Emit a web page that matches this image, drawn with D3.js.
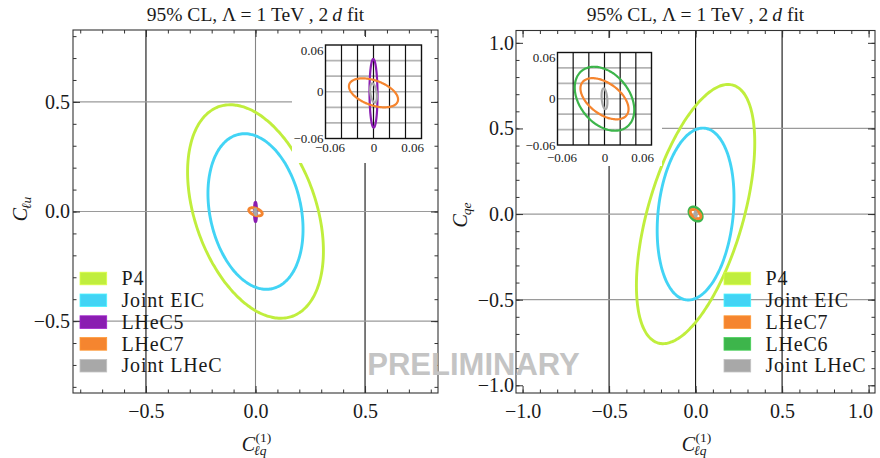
<!DOCTYPE html>
<html><head><meta charset="utf-8">
<script src="https://cdn.jsdelivr.net/npm/d3@7"></script>
<style>
html,body{margin:0;padding:0;background:#fff;}
</style></head><body>
<svg id="chart" width="880" height="458" style="font-family:'Liberation Serif','DejaVu Serif','Times New Roman',serif"></svg>
<script>
// ---------- data ----------
// 95% CL contours, each given by centre, half-extent along x and y, and correlation
const leftNames   = ["P4", "Joint EIC", "LHeC5", "LHeC7", "Joint LHeC"];
const leftColors  = ["#c0ee3d", "#42d4f5", "#8a1db1", "#f5852f", "#a8a8a8"];
const leftCenterY = [0, 0, -0.002, -0.0014, -0.0016];
const leftHalfX   = [0.31, 0.217, 0.005, 0.0307, 0.0042];
const leftHalfY   = [0.487, 0.355, 0.044, 0.0186, 0.0124];
const leftRho     = [-0.37, -0.23, -0.05, -0.45, -0.35];

const rightNames   = ["P4", "Joint EIC", "LHeC7", "LHeC6", "Joint LHeC"];
const rightColors  = ["#c0ee3d", "#42d4f5", "#f5852f", "#3db54b", "#a8a8a8"];
const rightCenterY = [0, 0, 0, 0, 0];
const rightHalfX   = [0.342, 0.222, 0.0307, 0.038, 0.0037];
const rightHalfY   = [0.757, 0.502, 0.0267, 0.0415, 0.0135];
const rightRho     = [0.55, 0.19, -0.5, -0.35, -0.3];
// legend order (index into the series above)
const rightLegendOrder = [0, 1, 2, 3, 4];
// draw order for the small contours (largest first)
const rightDrawOrder = [0, 1, 3, 2, 4];

const leftMajorX  = [-0.5, 0, 0.5];
const leftMajorY  = [-0.5, 0, 0.5];
const rightMajorX = [-1, -0.5, 0, 0.5, 1];
const rightMajorY = [-1, -0.5, 0, 0.5, 1];
const rightGridX  = [-0.5, 0, 0.5];
const rightGridY  = [-0.5, 0, 0.5];
const insetLabelTicks = [-0.06, 0, 0.06];
const insetGridTicks  = [-0.04, -0.02, 0, 0.02, 0.04];

// ---------- drawing ----------
const SERIF = "'Liberation Serif','DejaVu Serif','Times New Roman',serif";
const svg = d3.select("#chart");
const defs = svg.append("defs");

function contour(cy, hx, hy, rho) {
  const s = Math.sqrt(1 - rho * rho);
  return d3.range(0, 360, 2).map(deg => {
    const t = deg * Math.PI / 180;
    return [hx * Math.cos(t), cy + hy * (rho * Math.cos(t) + s * Math.sin(t))];
  });
}

function makeSeries(names, colors, cy, hx, hy, rho) {
  return names.map((n, i) => ({name: n, color: colors[i], pts: contour(cy[i], hx[i], hy[i], rho[i])}));
}

const fmt1 = d3.format(".1f");
const fmtInset = d => d === 0 ? "0" : d3.format(".2f")(d);

function styleAxis(g, size) {
  g.attr("font-family", SERIF).attr("font-size", size);
  g.selectAll("text").style("font-family", SERIF).attr("fill", "#1a1a1a");
  g.select(".domain").remove();
}

function serifText(sel) {
  return sel.style("font-family", SERIF).attr("fill", "#1a1a1a");
}

function drawPanel(cfg) {
  const x = d3.scaleLinear().domain(cfg.xDomain).range([cfg.left, cfg.right]);
  const y = d3.scaleLinear().domain(cfg.yDomain).range([cfg.bottom, cfg.top]);
  const g = svg.append("g");

  defs.append("clipPath").attr("id", cfg.id + "-clip").append("rect")
    .attr("x", cfg.left).attr("y", cfg.top)
    .attr("width", cfg.right - cfg.left).attr("height", cfg.bottom - cfg.top);
  const plot = g.append("g").attr("clip-path", `url(#${cfg.id}-clip)`);

  // grid lines
  plot.selectAll("line.vg").data(cfg.gridX).join("line")
    .attr("x1", d => x(d)).attr("x2", d => x(d))
    .attr("y1", cfg.top).attr("y2", cfg.bottom)
    .attr("stroke", d => cfg.vGridColor(d)).attr("stroke-width", 1.1);
  plot.selectAll("line.hg").data(cfg.gridY).join("line")
    .attr("y1", d => y(d)).attr("y2", d => y(d))
    .attr("x1", cfg.left).attr("x2", cfg.right)
    .attr("stroke", "#9a9a9a").attr("stroke-width", 1.2);

  // contours
  const line = d3.line().x(d => x(d[0])).y(d => y(d[1])).curve(d3.curveCardinalClosed);
  plot.selectAll("path.ell").data(cfg.drawOrder.map(i => cfg.series[i])).join("path")
    .attr("d", d => line(d.pts)).attr("fill", "none")
    .attr("stroke", d => d.color).attr("stroke-width", 2.9);

  // inset
  const ins = cfg.inset;
  g.append("rect").attr("x", ins.box[0]).attr("y", ins.box[1])
    .attr("width", ins.box[2] - ins.box[0]).attr("height", ins.box[3] - ins.box[1])
    .attr("fill", "#fff");
  const ix = d3.scaleLinear().domain([-0.06, 0.06]).range([ins.left, ins.right]);
  const iy = d3.scaleLinear().domain([-0.06, 0.06]).range([ins.bottom, ins.top]);
  defs.append("clipPath").attr("id", cfg.id + "-iclip").append("rect")
    .attr("x", ins.left).attr("y", ins.top)
    .attr("width", ins.right - ins.left).attr("height", ins.bottom - ins.top);
  const ip = g.append("g").attr("clip-path", `url(#${cfg.id}-iclip)`);
  ip.selectAll("line.ihg").data(insetGridTicks).join("line")
    .attr("y1", d => iy(d)).attr("y2", d => iy(d))
    .attr("x1", ins.left).attr("x2", ins.right)
    .attr("stroke", "#b4b4b4").attr("stroke-width", 1.6);
  ip.selectAll("line.ivg").data(insetGridTicks).join("line")
    .attr("x1", d => ix(d)).attr("x2", d => ix(d))
    .attr("y1", ins.top).attr("y2", ins.bottom)
    .attr("stroke", "#111").attr("stroke-width", 1.2);
  const iline = d3.line().x(d => ix(d[0])).y(d => iy(d[1])).curve(d3.curveCardinalClosed);
  ip.selectAll("path.iell").data(cfg.insetOrder.map(i => cfg.series[i])).join("path")
    .attr("d", d => iline(d.pts)).attr("fill", "none")
    .attr("stroke", d => d.color).attr("stroke-width", 2.2);
  g.append("rect").attr("x", ins.left).attr("y", ins.top)
    .attr("width", ins.right - ins.left).attr("height", ins.bottom - ins.top)
    .attr("fill", "none").attr("stroke", "#111").attr("stroke-width", 1.4);

  const ixAxis = g.append("g").attr("transform", `translate(0,${ins.bottom})`)
    .call(d3.axisBottom(ix).tickValues(insetLabelTicks).tickSize(0).tickPadding(ins.xPad).tickFormat(fmtInset));
  styleAxis(ixAxis, 13);
  ixAxis.selectAll("text").filter(d => d === 0.06).attr("text-anchor", "end").attr("x", 2);
  ixAxis.selectAll("text").filter(d => d === -0.06).attr("x", 4);
  const iyAxis = g.append("g").attr("transform", `translate(${ins.left},0)`)
    .call(d3.axisLeft(iy).tickValues(insetLabelTicks).tickSize(0).tickPadding(2).tickFormat(fmtInset));
  styleAxis(iyAxis, 13);
  iyAxis.selectAll("text").filter(d => d === 0.06).attr("y", 5);

  // frame
  g.append("rect").attr("x", cfg.left).attr("y", cfg.top)
    .attr("width", cfg.right - cfg.left).attr("height", cfg.bottom - cfg.top)
    .attr("fill", "none").attr("stroke", "#333").attr("stroke-width", 1.1);

  // ticks on all four sides
  const sides = [
    [d3.axisBottom, x, cfg.bottom, true], [d3.axisTop, x, cfg.top, true],
    [d3.axisLeft, y, cfg.left, false], [d3.axisRight, y, cfg.right, false]
  ];
  sides.forEach(([ax, sc, pos, horiz]) => {
    const major = horiz ? cfg.majorX : cfg.majorY;
    [[sc.ticks(20), -3.5], [major, -7]].forEach(([vals, len]) => {
      const a = g.append("g").attr("transform", horiz ? `translate(0,${pos})` : `translate(${pos},0)`)
        .call(ax(sc).tickValues(vals).tickSize(len).tickFormat(""));
      a.select(".domain").remove();
      a.selectAll("line").attr("stroke", "#333").attr("stroke-width", 1);
    });
  });

  // tick labels
  const xl = g.append("g").attr("transform", `translate(0,${cfg.bottom})`)
    .call(d3.axisBottom(x).tickValues(cfg.majorX).tickSize(0).tickPadding(11).tickFormat(fmt1));
  styleAxis(xl, 20);
  if (cfg.lastXEnd) xl.selectAll("text").filter(d => d === 1).attr("text-anchor", "end").attr("x", 4);
  const yl = g.append("g").attr("transform", `translate(${cfg.left},0)`)
    .call(d3.axisLeft(y).tickValues(cfg.majorY).tickSize(0).tickPadding(cfg.yPad).tickFormat(fmt1));
  styleAxis(yl, 20);

  // title
  const cx = (cfg.left + cfg.right) / 2;
  const t = serifText(g.append("text")).attr("x", cx).attr("y", 21).attr("text-anchor", "middle").attr("font-size", 19.5);
  t.append("tspan").text("95% CL, Λ = 1 TeV , 2\u2009");
  t.append("tspan").attr("font-style", "italic").text("d");
  t.append("tspan").text(" fit");

  // x axis label C_{lq}^{(1)}
  const xg = g.append("g");
  const c1 = serifText(xg.append("text")).attr("x", 0).attr("y", 451).attr("font-size", 20).attr("font-style", "italic").text("C");
  const w1 = c1.node().getComputedTextLength();
  const sub = serifText(xg.append("text")).attr("x", w1 - 1).attr("y", 455).attr("font-size", 13.5).attr("font-style", "italic").text("ℓq");
  const sup = serifText(xg.append("text")).attr("x", w1 + 0.5).attr("y", 442).attr("font-size", 13.5).text("(1)");
  const wTot = w1 + Math.max(sub.node().getComputedTextLength() - 1, sup.node().getComputedTextLength() + 0.5);
  xg.attr("transform", `translate(${cx - wTot / 2 + 1},0)`);

  // y axis label
  const yg = g.append("g").attr("transform", `translate(${cfg.yLabelX},${cfg.yLabelY}) rotate(-90)`);
  const c2 = serifText(yg.append("text")).attr("x", 0).attr("y", 0).attr("font-size", 20).attr("font-style", "italic").text("C");
  const w2 = c2.node().getComputedTextLength();
  const sub2 = serifText(yg.append("text")).attr("x", w2 - 1).attr("y", 4).attr("font-size", 13.5).attr("font-style", "italic").text(cfg.yLabelSub);
  const wy = w2 - 1 + sub2.node().getComputedTextLength();
  yg.selectAll("text").attr("transform", `translate(${-wy / 2},0)`);

  // legend
  const lg = g.append("g");
  const rows = lg.selectAll("g").data(cfg.legendOrder.map(i => cfg.series[i])).join("g")
    .attr("transform", (d, i) => `translate(${cfg.legendX},${cfg.legendY + i * 21.8})`);
  rows.append("rect").attr("x", 0).attr("y", -6.3).attr("width", 26.7).attr("height", 12.6)
    .attr("fill", d => d.color).attr("stroke", d => d3.color(d.color).brighter(0.4)).attr("stroke-width", 0.8);
  serifText(rows.append("text")).attr("x", 41.5).attr("y", 6.6).attr("font-size", 20)
    .attr("letter-spacing", 0.8).text(d => d.name);
}

const leftSeries = makeSeries(leftNames, leftColors, leftCenterY, leftHalfX, leftHalfY, leftRho);
const rightSeries = makeSeries(rightNames, rightColors, rightCenterY, rightHalfX, rightHalfY, rightRho);

drawPanel({
  id: "left", series: leftSeries,
  xDomain: [-0.833, 0.833], yDomain: [-0.828, 0.828],
  left: 73, right: 438, top: 30, bottom: 393,
  gridX: leftMajorX, gridY: leftMajorY,
  vGridColor: d => d === 0 ? "#858585" : "#111",
  majorX: leftMajorX, majorY: leftMajorY, yPad: 3, lastXEnd: false,
  drawOrder: [0, 1, 2, 3, 4], insetOrder: [2, 3, 4], legendOrder: [0, 1, 2, 3, 4],
  inset: {left: 325.5, right: 421.5, top: 45, bottom: 138.5, box: [292, 36, 437, 163], xPad: 4},
  yLabelX: 27, yLabelY: 209, yLabelSub: "ℓu",
  legendX: 80, legendY: 278.5
});

drawPanel({
  id: "right", series: rightSeries,
  xDomain: [-1.038, 1.037], yDomain: [-1.045, 1.072],
  left: 516, right: 875, top: 30.5, bottom: 393,
  gridX: rightGridX, gridY: rightGridY,
  vGridColor: () => "#111",
  majorX: rightMajorX, majorY: rightMajorY, yPad: 2, lastXEnd: true,
  drawOrder: rightDrawOrder, insetOrder: [3, 2, 4], legendOrder: rightLegendOrder,
  inset: {left: 557.5, right: 651.5, top: 52.5, bottom: 145, box: [518, 38, 662, 166], xPad: 8},
  yLabelX: 467, yLabelY: 215, yLabelSub: "qe",
  legendX: 724, legendY: 278.5
});

// watermark
svg.append("text").attr("x", 473.5).attr("y", 375).attr("text-anchor", "middle")
  .style("font-family", "'Liberation Sans', Arial, sans-serif").style("font-weight", "bold")
  .style("font-size", "31px").style("fill", "#c4c4c4").text("PRELIMINARY");
</script>
</body></html>
